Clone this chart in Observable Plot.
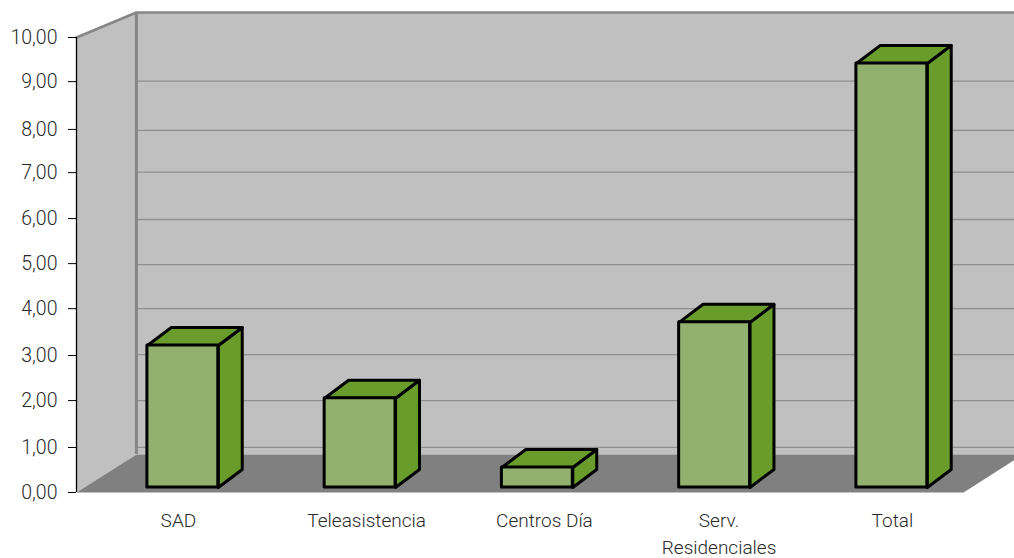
<!DOCTYPE html>
<html><head><meta charset="utf-8">
<style>
html,body{margin:0;padding:0;background:#fff;overflow:hidden}
svg{display:block}
</style>
<script src="https://cdn.jsdelivr.net/npm/d3@7"></script>
<script src="https://cdn.jsdelivr.net/npm/@observablehq/plot@0.6"></script>
</head><body>
<script>
const categories = ["SAD", "Teleasistencia", "Centros Día", "Serv.\nResidenciales", "Total"];
const values = [3.12, 1.96, 0.44, 3.63, 9.32];
const labelOffsets = [-0.025, 0.037, 0.04, 0.025, 0.003];
const tickLabels = ["0,00","1,00","2,00","3,00","4,00","5,00","6,00","7,00","8,00","9,00","10,00"];
const tickAt = [0, 0.99, 2.02, 3.01, 4.04, 5.03, 6.02, 7.03, 7.98, 9.03, 10];
const gridAt = [0.99, 2.02, 3.03, 4.04, 5.01, 6, 7.04, 7.96, 9.04];

// Picture geometry, expressed in scale units (x: category index, y: axis value)
const xFront = -0.6, xBack = -0.262, xEnd = 4.74, xFloorEnd = 4.405;
const yTop = 10.55, yBackFloor = 0.835, yTopFront = 10;
const halfBar = 0.2, depthX = 0.135, depthY = 0.396, baseY = 0.11;

const poly = (id, pts) => [...pts, pts[0]].map(([x, y]) => ({id, x, y}));
const walls = [
  ...poly("side", [[xFront, 0], [xFront, yTopFront], [xBack, yTop], [xBack, yBackFloor]]),
  ...poly("back", [[xBack, yBackFloor], [xBack, yTop], [xEnd, yTop], [xEnd, yBackFloor]])
];
const floor = poly("floor", [[xFront, 0], [xBack, yBackFloor], [xEnd, yBackFloor], [xFloorEnd, 0]]);
const wallEdge = [
  {id: "e", x: xFront, y: yTopFront}, {id: "e", x: xBack, y: yTop}, {id: "e", x: xEnd, y: yTop}
];
const faces = values.flatMap((v, i) => {
  const l = i - halfBar, r = i + halfBar, t = baseY + v;
  return [
    ...poly(`s${i}`, [[r, baseY], [r, t], [r + depthX, t + depthY], [r + depthX, baseY + depthY]]),
    ...poly(`t${i}`, [[l, t], [r, t], [r + depthX, t + depthY], [l + depthX, t + depthY]])
  ];
});
const fronts = values.map((v, i) => ({x1: i - halfBar, x2: i + halfBar, y1: baseY, y2: baseY + v}));

const FONT = 'Roboto, "Open Sans", sans-serif';
const chart = Plot.plot({
  width: 1014, height: 558,
  marginLeft: 76, marginRight: 0, marginTop: 37, marginBottom: 66,
  style: {background: "#fff", fontFamily: FONT},
  x: {type: "linear", domain: [xFront, xFront + 938 / 177.25], axis: null},
  y: {type: "linear", domain: [0, 10]},
  marks: [
    Plot.line(walls, {x: "x", y: "y", z: "id", fill: "#c0c0c0", stroke: "none"}),
    Plot.ruleY(gridAt, {x1: xBack, x2: xEnd, stroke: "#8f8f8f", strokeWidth: 1.3}),
    Plot.line(floor, {x: "x", y: "y", z: "id", fill: "#808080", stroke: "none"}),
    Plot.ruleX([xBack], {y1: yBackFloor, y2: yTop, stroke: "#868686", strokeWidth: 3}),
    Plot.line(wallEdge, {x: "x", y: "y", z: "id", stroke: "#868686", strokeWidth: 2.5}),
    Plot.ruleX([xFront], {y1: 0, y2: 10, stroke: "#000", strokeWidth: 1.3}),
    Plot.axisY(tickAt, {
      anchor: "left", label: null, tickSize: 8, tickPadding: 11,
      tickFormat: (d, i) => tickLabels[i],
      fontSize: 19.5, fontWeight: 300, fill: "#2a2a2a", stroke: "#000"
    }),
    Plot.line(faces, {x: "x", y: "y", z: "id", fill: "#699c2a", stroke: "#000", strokeWidth: 3, strokeLinejoin: "round"}),
    Plot.rect(fronts, {x1: "x1", x2: "x2", y1: "y1", y2: "y2", fill: "#92b06e", stroke: "#000", strokeWidth: 3, strokeLinejoin: "round", inset: 0}),
    Plot.text(categories, {
      x: (d, i) => i + labelOffsets[i], y: 0, dy: 15, text: d => d,
      lineAnchor: "top", textAnchor: "middle", lineHeight: 1.43,
      fontSize: 19, fontWeight: 300, fill: "#2a2a2a"
    })
  ]
});
document.body.appendChild(chart);
</script>
</body></html>
